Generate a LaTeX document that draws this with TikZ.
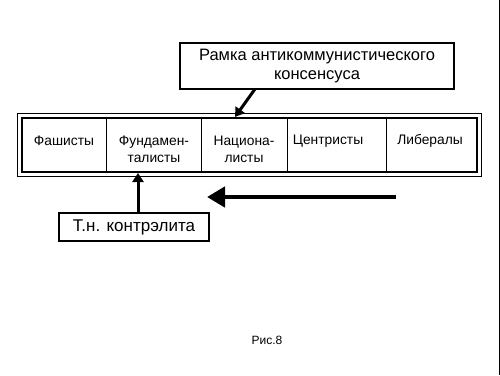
\documentclass[tikz,border=0pt]{standalone}
\usepackage{fontspec}
\setmainfont{Liberation Sans}
\usetikzlibrary{arrows.meta}
\begin{document}
\begin{tikzpicture}[x=1pt,y=-1pt,
  lbl/.style={font=\fontsize{13.8}{17}\selectfont, align=center, inner sep=0pt},
  boxlbl/.style={align=center, inner sep=0pt},
  boxed/.style={draw, line width=1.2pt, inner sep=0pt},
  conn/.style={line width=3pt, -{Triangle[length=9pt,width=11pt]}},
  bigarrow/.style={line width=4.5pt, -{Triangle[length=18pt,width=20pt]}}]
\useasboundingbox (0,0) rectangle (500,375);
\fill[white] (0,0) rectangle (500,375);
\draw[black, line width=1pt] (499,0) -- (499,375);
% frame
\draw[line width=0.9pt] (17,113) rectangle (481,176);
\draw[line width=1.6pt] (22,118) rectangle (477,172);
\foreach \x in {106,201,287,386} \draw[line width=0.8pt] (\x,118) -- (\x,172);
\node[lbl] (c1) at (64,141) {Фашисты};
\node[lbl] (c2) at (154,149.5) {Фундамен-\\талисты};
\node[lbl] (c3) at (244,149.5) {Национа-\\листы};
\node[lbl] (c4) at (328,141) {Центристы};
\node[lbl] (c5) at (430,141) {Либералы};
\coordinate (frametop) at (235,117);
\coordinate (framebot) at (138,173);
% top box
\node[boxed, boxlbl, font=\fontsize{16.5}{19.5}\selectfont, minimum width=274pt, minimum height=46pt] (top) at (317,66) {Рамка антикоммунистического\\консенсуса};
\draw[conn] (255,89) -- (frametop);
% bottom box
\node[boxed, boxlbl, font=\fontsize{17}{20}\selectfont, minimum width=150pt, minimum height=28pt] (bot) at (134,227) {Т.н. контрэлита};
\draw[conn] (bot.north -| framebot) -- (framebot);
% big arrow
\coordinate (ba1) at (396,197);
\coordinate (ba2) at (207,197);
\draw[bigarrow] (ba1) -- (ba2);
\node[font=\fontsize{12}{14}\selectfont] (fig) at (267,340) {Рис.8};
\end{tikzpicture}
\end{document}
